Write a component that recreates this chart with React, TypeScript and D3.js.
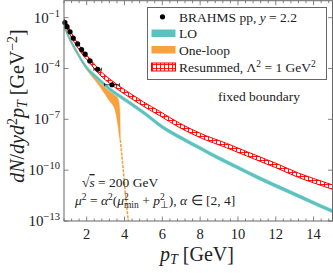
import React from "react";
import * as d3 from "d3";

// BRAHMS pp data, y = 2.2
const dataPt = [0.85, 0.96, 1.12, 1.29, 1.52, 1.73, 1.92, 2.17, 2.58, 3.34];
const dataVal = [5.1e-2, 2.95e-2, 1.45e-2, 6.2e-3, 2.8e-3, 1.3e-3, 7.1e-4, 2.8e-4, 9.0e-5, 1.1e-5];
const dataErrX = [0, 0, 0, 0, 0, 0, 0, 0.1, 0.2, 0.4];

// LO band
const loPt = [0.8, 1.0, 1.2, 1.5, 1.75, 2.0, 2.35, 2.7, 3.2, 3.7, 4.3, 5.0, 6.0, 7.0, 8.0, 9.0, 10.0, 11.0, 12.0, 13.0, 14.0, 15.0];
const loHigh = [3.98e-2, 1.26e-2, 4.47e-3, 1.12e-3, 3.55e-4, 1.41e-4, 5.62e-5, 2.51e-5, 7.94e-6, 3.16e-6, 1.12e-6, 3.16e-7, 4.47e-8, 1.0e-8, 2.51e-9, 6.31e-10, 1.78e-10, 5.01e-11, 1.51e-11, 4.79e-12, 1.48e-12, 4.79e-13];
const loLow = [2.51e-2, 7.94e-3, 2.82e-3, 7.08e-4, 2.24e-4, 8.91e-5, 3.55e-5, 1.58e-5, 5.01e-6, 2.0e-6, 7.08e-7, 2.0e-7, 2.82e-8, 6.31e-9, 1.58e-9, 3.98e-10, 1.12e-10, 3.16e-11, 9.55e-12, 3.02e-12, 9.33e-13, 3.02e-13];

// One-loop band, then its thin tail
const nloPt = [0.8, 1.2, 1.6, 2.0, 2.3, 2.6, 2.9, 3.2, 3.5, 3.66, 3.75, 3.78];
const nloHigh = [3.55e-2, 3.55e-3, 5.62e-4, 1.12e-4, 4.47e-5, 1.91e-5, 8.91e-6, 4.47e-6, 2.51e-6, 1.66e-6, 3.55e-7, 6.31e-9];
const nloLow = [2.51e-2, 2.63e-3, 4.17e-4, 8.32e-5, 3.16e-5, 1.2e-5, 3.98e-6, 1.26e-6, 3.55e-7, 3.98e-8, 7.08e-9, 5.62e-9];
const tailPt = [3.78, 3.9, 4.05, 4.2];
const tailVal = [6.0e-9, 2.5e-10, 4.0e-12, 1.0e-13];

// Resummed band
const resPt = [0.8, 1.0, 1.25, 1.5, 1.82, 2.2, 2.7, 3.3, 4.3, 5.0, 5.85, 6.9, 8.0, 9.4, 10.5, 11.5, 12.0, 13.2, 14.0, 15.0];
const resHigh = [8.51e-2, 3.39e-2, 9.55e-3, 3.39e-3, 1.07e-3, 3.39e-4, 7.59e-5, 2.04e-5, 3.39e-6, 1.07e-6, 3.02e-7, 6.03e-8, 1.51e-8, 3.8e-9, 1.2e-9, 4.27e-10, 2.57e-10, 6.76e-11, 3.24e-11, 1.35e-11];
const resLow = [4.68e-2, 1.86e-2, 5.25e-3, 1.86e-3, 5.89e-4, 1.86e-4, 4.17e-5, 1.12e-5, 1.86e-6, 5.89e-7, 1.66e-7, 3.31e-8, 8.32e-9, 2.09e-9, 6.61e-10, 2.34e-10, 1.41e-10, 3.72e-11, 1.78e-11, 7.41e-12];

const xTicks = [2, 4, 6, 8, 10, 12, 14];
const yTicks = [1e-1, 1e-4, 1e-7, 1e-10, 1e-13];
const yTickExp = ["\u22121", "\u22124", "\u22127", "\u221210", "\u221213"];

const TEAL = "#5cc2c0";
const ORANGE = "#f8a13f";
const RED = "#ff0000";
const FRAME = "#666";
const FONT = "'Liberation Serif', serif";

const x = d3.scaleLinear().domain([0.8, 15]).range([64, 332.5]);
const y = d3.scaleLog().domain([1e-13, 1]).range([221, 0.7]);

const band = (pts: number[], lo: number[], hi: number[]) =>
	d3
		.area<number>()
		.x(i => x(pts[i]))
		.y0(i => y(lo[i]))
		.y1(i => y(hi[i]))
		.curve(d3.curveMonotoneX)(d3.range(pts.length)) || "";

const tailLine =
	d3
		.line<number>()
		.x(i => x(tailPt[i]))
		.y(i => y(tailVal[i]))
		.curve(d3.curveMonotoneX)(d3.range(tailPt.length)) || "";

const minorX = d3.range(0.8, 15, 0.4).filter(v => Math.abs(v / 2 - Math.round(v / 2)) > 0.01);

export default function App() {
	const [x0, x1] = x.range();
	const [yb, yt] = y.range();
	return (
		<svg
			width={333}
			height={273}
			style={{ position: "absolute", left: 0, top: 0, fontFamily: FONT }}>
			<defs>
				<clipPath id="plot">
					<rect x={x0} y={yt} width={x1 - x0} height={yb - yt} />
				</clipPath>
				<pattern id="grid" patternUnits="userSpaceOnUse" width={4} height={4}>
					<rect width={4} height={4} fill="white" />
					<path d="M0 0.5H4M0.5 0V4" stroke={RED} strokeWidth={0.9} />
				</pattern>
			</defs>
			<rect x={0} y={0} width={333} height={273} fill="white" />

			<g clipPath="url(#plot)">
				<path d={band(nloPt, nloLow, nloHigh)} fill={ORANGE} stroke={ORANGE} strokeWidth={0.5} />
				<path d={tailLine} fill="none" stroke={ORANGE} strokeWidth={1.6} strokeDasharray="3 1.2" />
				<path d={band(loPt, loLow, loHigh)} fill={TEAL} stroke={TEAL} strokeWidth={0.5} />
				<path d={band(resPt, resLow, resHigh)} fill="url(#grid)" stroke={RED} strokeWidth={1} />
			</g>

			{/* data points */}
			{dataPt.map((p, i) => (
				<g key={i}>
					{dataErrX[i] > 0 && (
						<g stroke="black" strokeWidth={0.7}>
							<line x1={x(p - dataErrX[i])} x2={x(p + dataErrX[i])} y1={y(dataVal[i])} y2={y(dataVal[i])} />
							<line x1={x(p - dataErrX[i])} x2={x(p - dataErrX[i])} y1={y(dataVal[i]) - 1.6} y2={y(dataVal[i]) + 1.6} />
							<line x1={x(p + dataErrX[i])} x2={x(p + dataErrX[i])} y1={y(dataVal[i]) - 1.6} y2={y(dataVal[i]) + 1.6} />
						</g>
					)}
					<circle cx={x(p)} cy={y(dataVal[i])} r={2.6} fill="black" />
				</g>
			))}

			{/* frame and ticks */}
			<rect x={x0} y={yt} width={x1 - x0} height={yb - yt} fill="none" stroke={FRAME} strokeWidth={1} />
			<g stroke={FRAME} strokeWidth={0.8}>
				{xTicks.map(t => (
					<g key={t}>
						<line x1={x(t)} x2={x(t)} y1={yb} y2={yb - 4.5} />
						<line x1={x(t)} x2={x(t)} y1={yt} y2={yt + 4.5} />
					</g>
				))}
				{minorX.map(t => (
					<g key={t}>
						<line x1={x(t)} x2={x(t)} y1={yb} y2={yb - 2.5} />
						<line x1={x(t)} x2={x(t)} y1={yt} y2={yt + 2.5} />
					</g>
				))}
				{yTicks.map(t => (
					<g key={t}>
						<line x1={x0} x2={x0 + 4.5} y1={y(t)} y2={y(t)} />
						<line x1={x1} x2={x1 - 4.5} y1={y(t)} y2={y(t)} />
					</g>
				))}
			</g>
			<g fill="#222">
				{xTicks.map(t => (
					<text key={t} x={x(t)} y={238.5} textAnchor="middle" fontSize={14.5}>
						{t}
					</text>
				))}
				{yTicks.map((t, i) => (
					<text key={t} x={60} y={y(t) + 5} textAnchor="end" fontSize={15}>
						10
						<tspan dy={-6} fontSize={10.5}>
							{yTickExp[i]}
						</tspan>
					</text>
				))}
			</g>

			{/* axis labels */}
			<text x={197} y={261} textAnchor="middle" fontSize={20} fill="#222">
				<tspan fontStyle="italic">p</tspan>
				<tspan fontStyle="italic" fontSize={14} dy={3}>T</tspan>
				<tspan dy={-3}> [GeV]</tspan>
			</text>
			<text transform="translate(24,106) rotate(-90)" textAnchor="middle" fontSize={20} fill="#222">
				<tspan fontStyle="italic">dN</tspan>
				<tspan>/</tspan>
				<tspan fontStyle="italic">dyd</tspan>
				<tspan fontSize={14} dy={-7}>2</tspan>
				<tspan fontStyle="italic" dy={7}>p</tspan>
				<tspan fontStyle="italic" fontSize={14} dy={3}>T</tspan>
				<tspan dy={-3}> [GeV</tspan>
				<tspan fontSize={14} dy={-7}>{"\u22122"}</tspan>
				<tspan dy={7}>]</tspan>
			</text>

			{/* annotations */}
			<text x={259} y={101} textAnchor="middle" fontSize={13.5} fill="#222">
				fixed boundary
			</text>
			<text x={82} y={187} fontSize={13.5} fill="#222">
				{"\u221A"}
				<tspan fontStyle="italic" textDecoration="overline">s</tspan>
				{" = 200 GeV"}
			</text>
			<text x={75} y={205} fontSize={13.5} fill="#222">
				<tspan fontStyle="italic">{"\u03BC"}</tspan>
				<tspan fontSize={9.5} dy={-5}>2</tspan>
				<tspan dy={5}>{" = "}</tspan>
				<tspan fontStyle="italic">{"\u03B1"}</tspan>
				<tspan fontSize={9.5} dy={-5}>2</tspan>
				<tspan dy={5}>(</tspan>
				<tspan fontStyle="italic">{"\u03BC"}</tspan>
				<tspan fontSize={9.5} dy={-5}>2</tspan>
				<tspan fontSize={9.5} dx={-4.8} dy={8}>min</tspan>
				<tspan dy={-3}>{" + "}</tspan>
				<tspan fontStyle="italic">p</tspan>
				<tspan fontSize={9.5} dy={-5}>2</tspan>
				<tspan fontSize={9.5} dx={-4.8} dy={8}>{"\u22A5"}</tspan>
				<tspan dy={-3}>{"), "}</tspan>
				<tspan fontStyle="italic">{"\u03B1"}</tspan>
				<tspan>{" \u2208 [2, 4]"}</tspan>
			</text>

			{/* legend */}
			<g>
				<rect x={147.5} y={7.5} width={179} height={72} fill="white" stroke={FRAME} strokeWidth={1} />
				<circle cx={162.5} cy={16.8} r={2.6} fill="black" />
				<rect x={151.5} y={29.5} width={24} height={7.5} fill={TEAL} />
				<rect x={151.5} y={46} width={24} height={7.5} fill={ORANGE} />
				<rect x={151.5} y={63} width={24} height={8} fill="url(#grid)" stroke={RED} strokeWidth={1} />
				<g fontSize={13.5} fill="#222">
					<text x={179} y={21.5}>
						BRAHMS pp, <tspan fontStyle="italic">y</tspan> = 2.2
					</text>
					<text x={179} y={38}>LO</text>
					<text x={179} y={54.5}>One-loop</text>
					<text x={179} y={71.5}>
						Resummed, {"\u039B"}
						<tspan fontSize={9.5} dy={-5}>2</tspan>
						<tspan dy={5}> = 1 GeV</tspan>
						<tspan fontSize={9.5} dy={-5}>2</tspan>
					</text>
				</g>
			</g>
		</svg>
	);
}
